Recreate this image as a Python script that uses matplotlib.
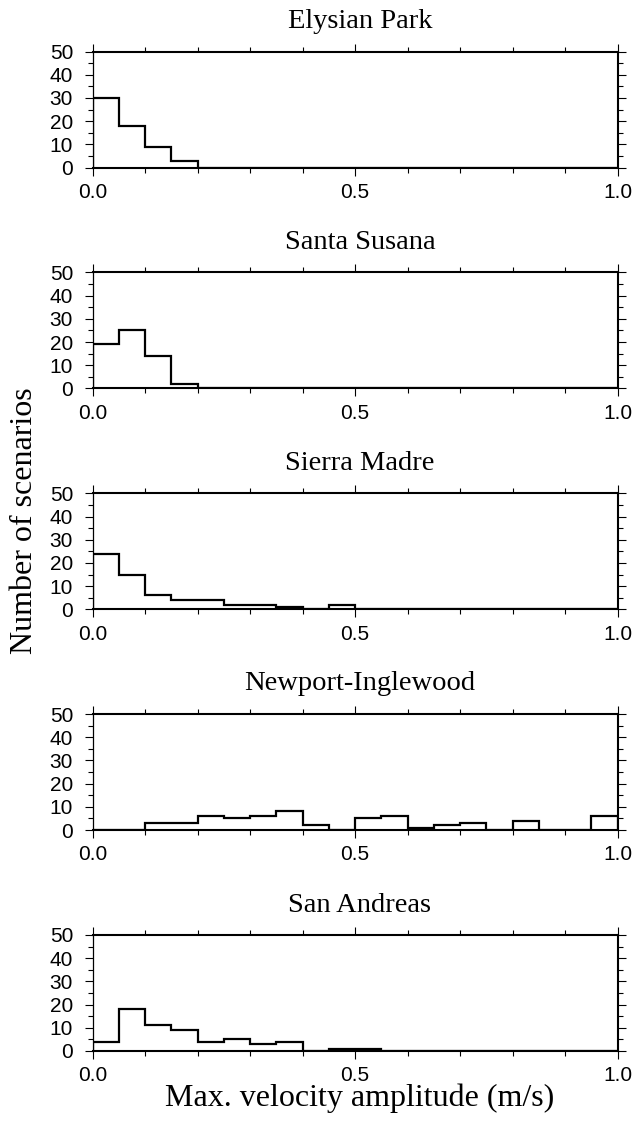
import numpy as np
import matplotlib
matplotlib.use('Agg')
import matplotlib.pyplot as plt
from matplotlib.ticker import MultipleLocator

# scenario counts per 0.05 m/s bin, 0.0 .. 1.0
names = ['Elysian Park', 'Santa Susana', 'Sierra Madre', 'Newport-Inglewood', 'San Andreas']
elysian = [30, 18, 9, 3, 0, 0, 0, 0, 0, 0, 0, 0, 0, 0, 0, 0, 0, 0, 0, 0]
susana = [19, 25, 14, 2, 0, 0, 0, 0, 0, 0, 0, 0, 0, 0, 0, 0, 0, 0, 0, 0]
madre = [24, 15, 6, 4, 4, 2, 2, 1, 0, 2, 0, 0, 0, 0, 0, 0, 0, 0, 0, 0]
newport = [0, 0, 3, 3, 6, 5, 6, 8, 2, 0, 5, 6, 1, 2, 3, 0, 4, 0, 0, 6]
andreas = [4, 18, 11, 9, 4, 5, 3, 4, 0, 1, 1, 0, 0, 0, 0, 0, 0, 0, 0, 0]
counts = [elysian, susana, madre, newport, andreas]
edges = np.arange(21) * 0.05

serif = 'Liberation Serif'
sans = 'Liberation Sans'

fig = plt.figure(figsize=(6.34, 11.22), dpi=100)
W, H = 634.0, 1122.0
left, right = 92.5, 617.5
tops = [51.5, 272.5, 493.3, 714.0, 935.0]
ph = 116.0

for name, c, top in zip(names, counts, tops):
    ax = fig.add_axes([left / W, 1 - (top + ph) / H, (right - left) / W, ph / H])
    ax.stairs(c, edges, color='black', linewidth=1.6, baseline=0)
    ax.set_xlim(0, 1.0)
    ax.set_ylim(0, 50)
    ax.xaxis.set_major_locator(MultipleLocator(0.5))
    ax.xaxis.set_minor_locator(MultipleLocator(0.1))
    ax.yaxis.set_major_locator(MultipleLocator(10))
    ax.yaxis.set_minor_locator(MultipleLocator(5))
    ax.xaxis.set_major_formatter(plt.FuncFormatter(lambda v, p: '%.1f' % v))
    ax.tick_params(which='both', direction='out', top=True, right=True, width=0.8)
    ax.tick_params(which='major', length=6)
    ax.tick_params(which='minor', length=3.5)
    ax.tick_params(axis='x', which='major', pad=5)
    ax.tick_params(axis='y', which='major', pad=8)
    for lab in ax.get_xticklabels() + ax.get_yticklabels():
        lab.set_fontfamily(sans)
        lab.set_fontsize(15)
    for s in ['top', 'bottom', 'right']:
        ax.spines[s].set_linewidth(1.5)
    ax.spines['left'].set_linewidth(0.9)
    ax.text((360 - left) / (right - left), 1 + 23.5 / ph, name, transform=ax.transAxes,
            ha='center', va='baseline', fontsize=20.5, family=serif)

fig.text(25 / W, 1 - 521 / H, 'Number of scenarios', rotation=90, ha='center', va='center',
         fontsize=23, family=serif)
fig.text(360 / W, 1 - 1098 / H, 'Max. velocity amplitude (m/s)', ha='center', va='center',
         fontsize=23, family=serif)

fig.savefig('out.png', dpi=100)
